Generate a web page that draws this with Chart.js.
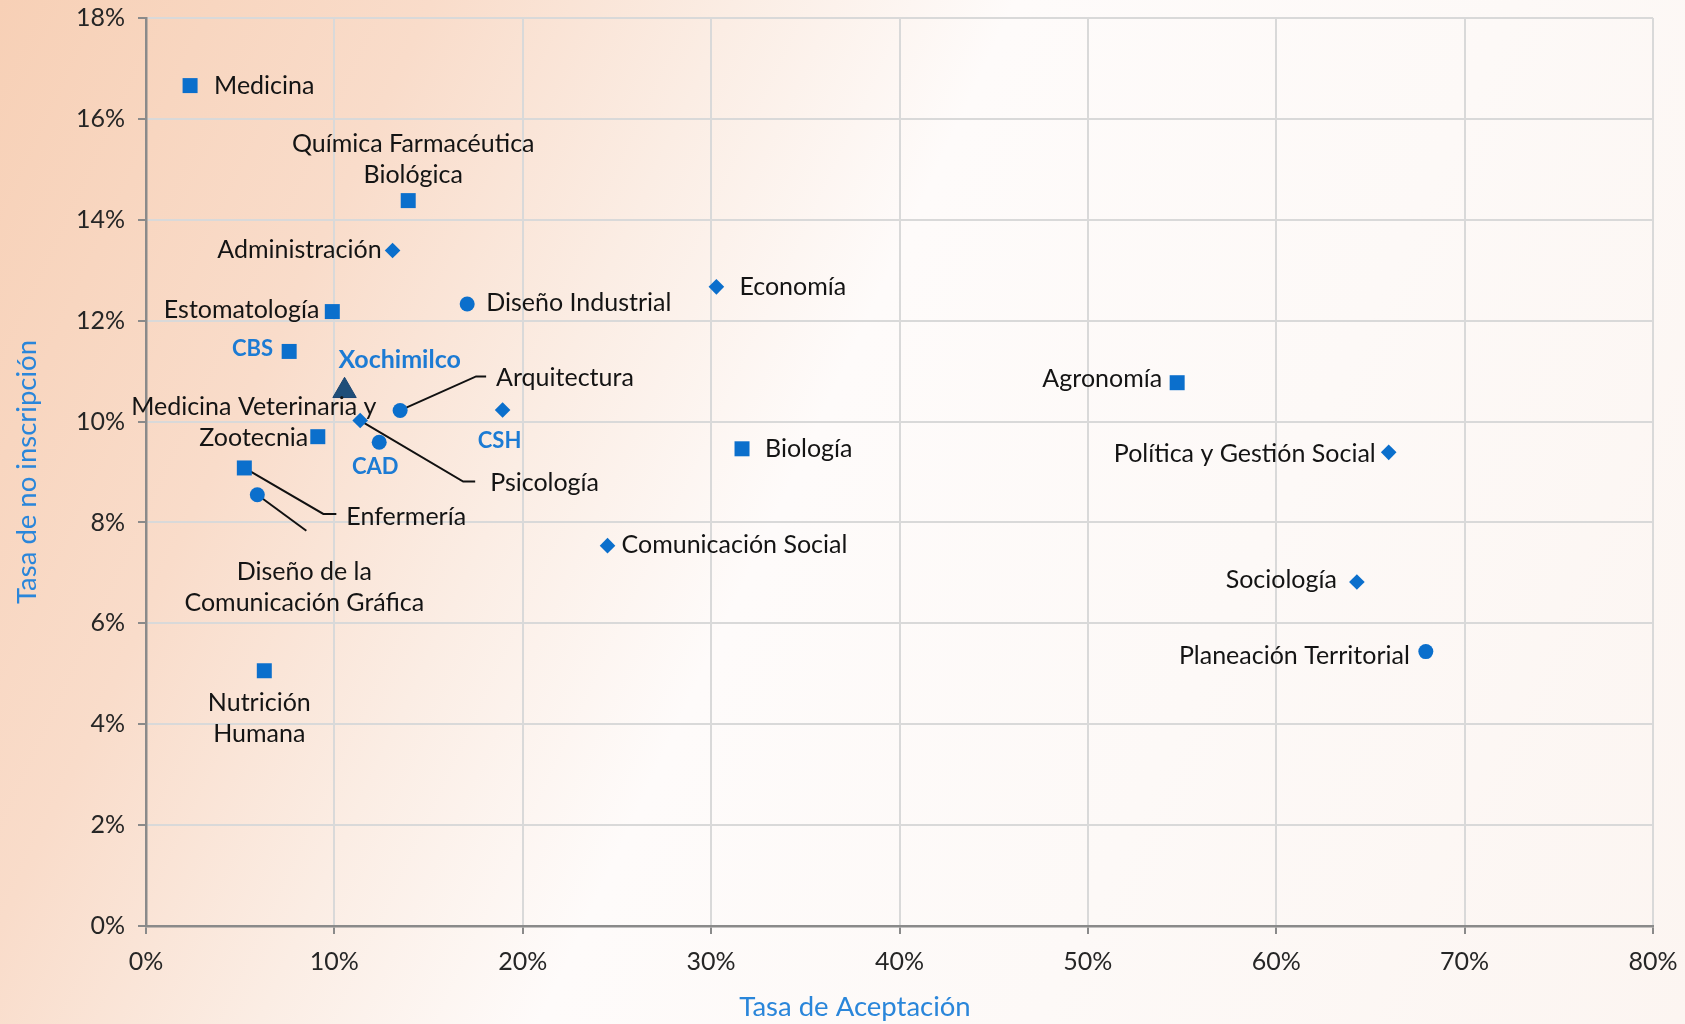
<!DOCTYPE html>
<html>
<head>
<meta charset="utf-8">
<script src="https://cdn.jsdelivr.net/npm/chart.js@4.4.1/dist/chart.umd.min.js"></script>
<style>
html, body { margin:0; padding:0; width:1685px; height:1024px; overflow:hidden; }
body { background: linear-gradient(115deg, #F7D0B6 0%, #F9DCCA 20%, #FBEDE4 34%, #FEFBFA 47%, #FDF9F7 70%, #FCF5F1 100%); }
canvas { display:block; }
</style>
</head>
<body>
<canvas id="chart" width="1685" height="1024"></canvas>
<script>
// ---------------- DATA ----------------
const xTitle = 'Tasa de Aceptación';
const yTitle = 'Tasa de no inscripción';
const xTickValues = [0, 10, 20, 30, 40, 50, 60, 70, 80];
const yTickValues = [0, 2, 4, 6, 8, 10, 12, 14, 16, 18];

// CBS careers (squares)
const cbsCareers = ['Medicina', 'Química Farmacéutica Biológica', 'Estomatología', 'Medicina Veterinaria y Zootecnia', 'Biología', 'Enfermería', 'Nutrición Humana', 'Agronomía'];
const cbsAcceptance = [2.34, 13.92, 9.89, 9.12, 31.64, 5.22, 6.28, 54.74];
const cbsNoEnrollment = [16.66, 14.38, 12.18, 9.70, 9.46, 9.08, 5.06, 10.77];

// CSH careers (diamonds)
const cshCareers = ['Administración', 'Economía', 'Psicología', 'Comunicación Social', 'Política y Gestión Social', 'Sociología'];
const cshAcceptance = [13.09, 30.28, 11.37, 24.50, 65.97, 64.28];
const cshNoEnrollment = [13.39, 12.67, 10.02, 7.54, 9.39, 6.82];

// CAD careers (circles)
const cadCareers = ['Diseño Industrial', 'Arquitectura', 'Diseño de la Comunicación Gráfica', 'Planeación Territorial'];
const cadAcceptance = [17.05, 13.49, 5.91, 67.94];
const cadNoEnrollment = [12.33, 10.22, 8.55, 5.44];

// Division totals
const divisionNames = ['CBS', 'CSH', 'CAD'];
const divisionAcceptance = [7.60, 18.93, 12.38];
const divisionNoEnrollment = [11.39, 10.23, 9.59];

// Unit total (triangle)
const unitNames = ['Xochimilco'];
const unitAcceptance = [10.54];
const unitNoEnrollment = [10.61];

// ---------------- LABEL LAYOUT (pixel offsets from each point) ----------------
const labelLayout = {
  'Medicina': {dx:24, dy:0, align:'left'},
  'Química Farmacéutica Biológica': {dx:5, dy:-57, align:'center', split:2},
  'Estomatología': {dx:-13, dy:-2, align:'right'},
  'Medicina Veterinaria y Zootecnia': {dx:-64, dy:-30, align:'center', split:3},
  'Biología': {dx:23, dy:0, align:'left'},
  'Enfermería': {dx:102, dy:49, align:'left', leader:[[79,46],[92,46]]},
  'Nutrición Humana': {dx:-5, dy:32, align:'center', split:1},
  'Agronomía': {dx:-15, dy:-4, align:'right'},
  'Administración': {dx:-11, dy:-1, align:'right'},
  'Economía': {dx:23, dy:0, align:'left'},
  'Psicología': {dx:130, dy:62, align:'left', leader:[[103,61],[115,61]]},
  'Comunicación Social': {dx:14, dy:-1, align:'left'},
  'Política y Gestión Social': {dx:-13, dy:2, align:'right'},
  'Sociología': {dx:-20, dy:-2, align:'right'},
  'Diseño Industrial': {dx:19, dy:-1, align:'left'},
  'Arquitectura': {dx:96, dy:-33, align:'left', leader:[[76,-34],[86,-34]]},
  'Diseño de la Comunicación Gráfica': {dx:47, dy:77, align:'center', split:3, leader:[[49,36]]},
  'Planeación Territorial': {dx:-16, dy:4, align:'right'},
  'CBS': {dx:-16, dy:-3, align:'right'},
  'CSH': {dx:-3, dy:31, align:'center'},
  'CAD': {dx:-4, dy:25, align:'center'},
  'Xochimilco': {dx:-6, dy:-31, align:'left', font:'bold 25px Lato'}
};

const LINE_H = 31.5;
const LABEL_FONT = '25px Lato';
const DIVISION_FONT = 'bold 22px Lato';
const TEXT_COLOR = '#141414';
const BLUE_TEXT = '#1C7BD4';
const MARKER_BLUE = '#0B6FCC';

function points(names, xs, ys, kind) {
  return names.map((n, i) => ({x: xs[i], y: ys[i], name: n, kind: kind}));
}

const labelPlugin = {
  id: 'pointLabels',
  beforeDatasetsDraw(chart) {
    const ctx = chart.ctx;
    ctx.save();
    ctx.strokeStyle = '#111111';
    ctx.lineWidth = 2;
    chart.data.datasets.forEach((ds, di) => {
      const meta = chart.getDatasetMeta(di);
      ds.data.forEach((p, i) => {
        const lay = labelLayout[p.name];
        if (!lay || !lay.leader) return;
        const el = meta.data[i];
        ctx.beginPath();
        ctx.moveTo(el.x, el.y);
        lay.leader.forEach(pt => ctx.lineTo(el.x + pt[0], el.y + pt[1]));
        ctx.stroke();
      });
    });
    ctx.restore();
  },
  afterDatasetsDraw(chart) {
    const ctx = chart.ctx;
    ctx.save();
    ctx.textBaseline = 'middle';
    chart.data.datasets.forEach((ds, di) => {
      const meta = chart.getDatasetMeta(di);
      ds.data.forEach((p, i) => {
        const lay = labelLayout[p.name];
        if (!lay) return;
        const el = meta.data[i];
        const isDiv = p.kind !== 'career';
        ctx.font = lay.font || (isDiv ? DIVISION_FONT : LABEL_FONT);
        ctx.fillStyle = isDiv ? BLUE_TEXT : TEXT_COLOR;
        ctx.textAlign = lay.align;
        let lines = [p.name];
        if (lay.split) {
          const w = p.name.split(' ');
          lines = [w.slice(0, lay.split).join(' '), w.slice(lay.split).join(' ')];
        }
        lines.forEach((ln, k) => {
          ctx.fillText(ln, el.x + lay.dx, el.y + lay.dy + k * LINE_H);
        });
      });
    });
    ctx.restore();
  },
  afterDraw(chart) {
    const ctx = chart.ctx;
    ctx.save();
    ctx.font = '27.5px Lato';
    ctx.fillStyle = '#2A86DA';
    ctx.textAlign = 'center';
    ctx.textBaseline = 'middle';
    ctx.fillText(xTitle, 855, 1007);
    ctx.restore();
  }
};

function makeChart() {
  Chart.defaults.font.family = 'Lato';
  const ctx = document.getElementById('chart');
  new Chart(ctx, {
    type: 'scatter',
    data: {
      datasets: [
        {
          label: 'CBS',
          data: points(cbsCareers, cbsAcceptance, cbsNoEnrollment, 'career').concat(points(['CBS'], [divisionAcceptance[0]], [divisionNoEnrollment[0]], 'division')),
          pointStyle: 'rect', pointRadius: 10.6, backgroundColor: MARKER_BLUE, borderColor: MARKER_BLUE, borderWidth: 0
        },
        {
          label: 'CSH',
          data: points(cshCareers, cshAcceptance, cshNoEnrollment, 'career').concat(points(['CSH'], [divisionAcceptance[1]], [divisionNoEnrollment[1]], 'division')),
          pointStyle: 'rectRot', pointRadius: 7.8, backgroundColor: MARKER_BLUE, borderColor: MARKER_BLUE, borderWidth: 0
        },
        {
          label: 'CAD',
          data: points(cadCareers, cadAcceptance, cadNoEnrollment, 'career').concat(points(['CAD'], [divisionAcceptance[2]], [divisionNoEnrollment[2]], 'division')),
          pointStyle: 'circle', pointRadius: 7.5, backgroundColor: MARKER_BLUE, borderColor: MARKER_BLUE, borderWidth: 0
        },
        {
          label: 'Xochimilco',
          data: points(unitNames, unitAcceptance, unitNoEnrollment, 'unit'),
          pointStyle: 'triangle', pointRadius: 13.5, backgroundColor: '#1F4E79', borderColor: '#1A4470', borderWidth: 1
        }
      ]
    },
    options: {
      responsive: false,
      animation: false,
      events: [],
      layout: { padding: { top: 18, right: 32, left: 0, bottom: 0 } },
      plugins: { legend: { display: false }, tooltip: { enabled: false } },
      scales: {
        x: {
          type: 'linear', min: 0, max: 80,
          afterBuildTicks: s => { s.ticks = xTickValues.map(v => ({value: v})); },
          afterFit: s => { s.height = 98; s.paddingLeft = 0; s.paddingRight = 0; },
          ticks: { callback: v => v + '%', color: '#262626', font: { size: 25 }, padding: 13, maxRotation: 0 },
          grid: { color: '#D9D9D9', lineWidth: 2, tickColor: '#8A8A8A', tickLength: 8 },
          border: { color: '#8A8A8A', width: 2.5 }
        },
        y: {
          type: 'linear', min: 0, max: 18,
          afterBuildTicks: s => { s.ticks = yTickValues.map(v => ({value: v})); },
          afterFit: s => { s.width = 146; s.paddingTop = 0; s.paddingBottom = 0; },
          ticks: { callback: v => v + '%', color: '#262626', font: { size: 25 }, padding: 13 },
          grid: { color: '#D9D9D9', lineWidth: 2, tickColor: '#8A8A8A', tickLength: 8 },
          border: { color: '#8A8A8A', width: 2.5 },
          title: { display: true, text: yTitle, color: '#2A86DA', font: { size: 27.5 }, padding: { top: 11, bottom: 0 } }
        }
      }
    },
    plugins: [labelPlugin]
  });
}

if (document.fonts && document.fonts.load) {
  Promise.all([document.fonts.load('25px Lato'), document.fonts.load('bold 22px Lato')]).then(makeChart, makeChart);
} else {
  makeChart();
}
</script>
</body>
</html>
